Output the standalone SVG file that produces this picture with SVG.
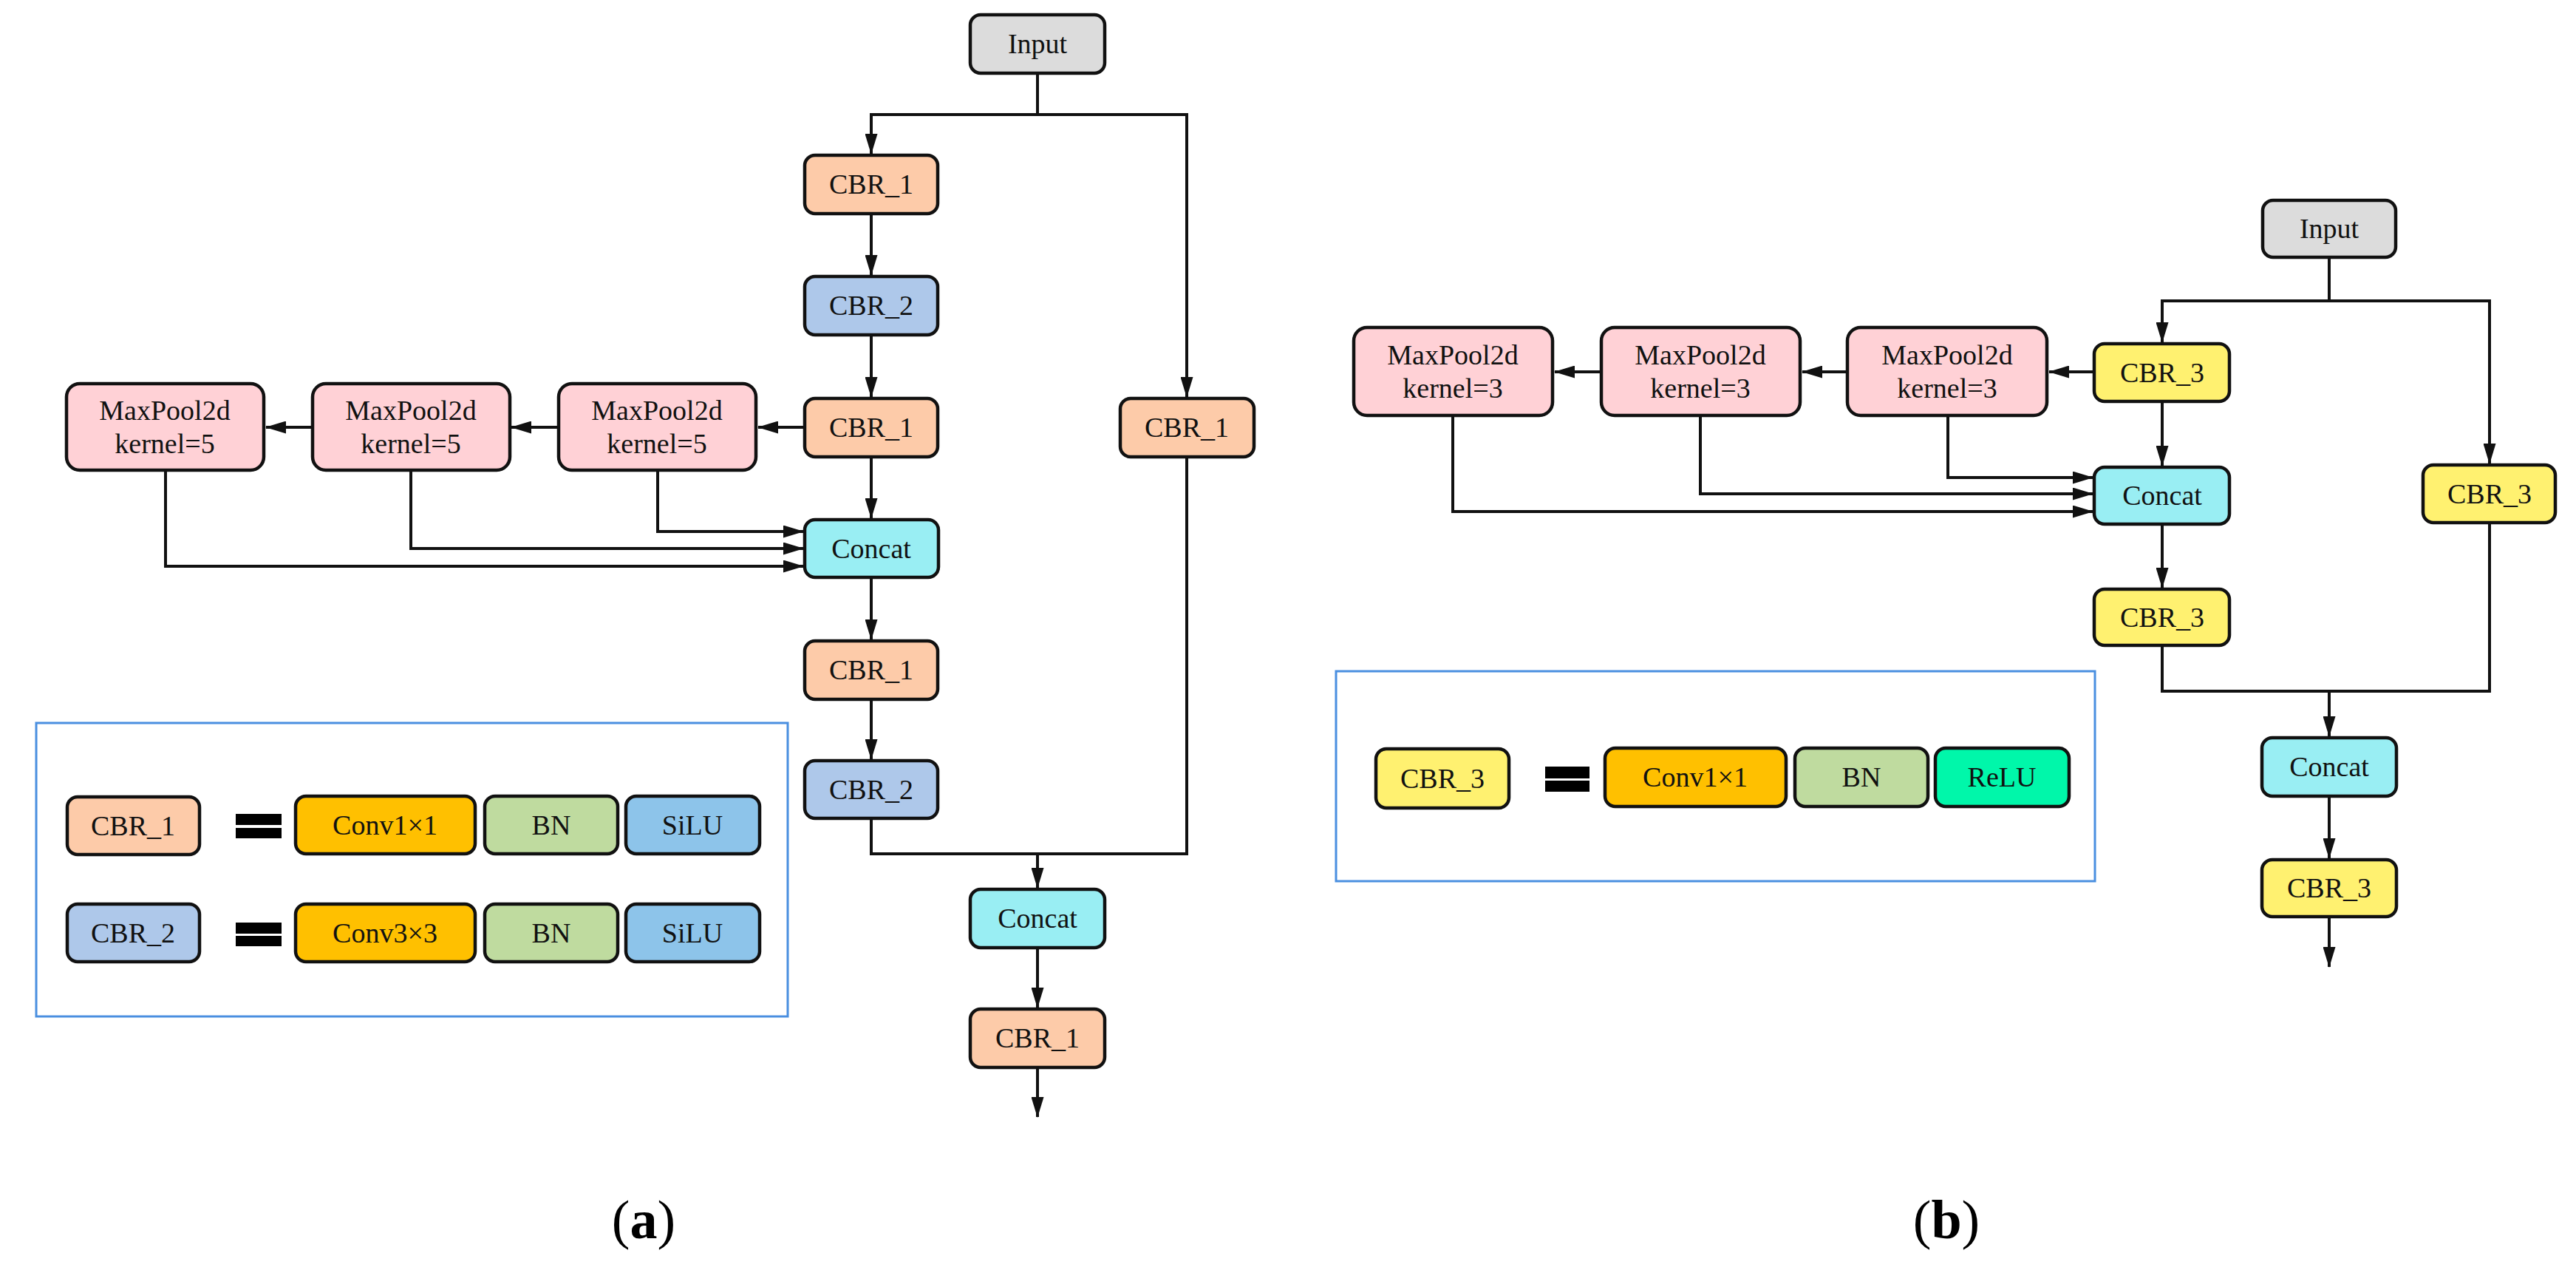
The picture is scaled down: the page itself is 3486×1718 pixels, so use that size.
<svg xmlns="http://www.w3.org/2000/svg" width="3486" height="1718" viewBox="0 0 3486 1718">
<style>
.n{stroke:#111;stroke-width:4.5}
.t{font-family:"Liberation Serif","Times New Roman",serif;font-size:38px;fill:#111;text-anchor:middle}
.c{fill:none;stroke:#111;stroke-width:4}
.lg{fill:none;stroke:#4a8fe0;stroke-width:3}
.eq{fill:#000}
.inp{fill:#dcdcdc}.c1{fill:#fdcba9}.c2{fill:#aec8ea}.cc{fill:#99eef3}.mp{fill:#ffd1d6}.c3{fill:#fff170}
.cv{fill:#ffc000}.bn{fill:#bfdb9f}.si{fill:#8dc4ea}.re{fill:#00f7aa}
.cap{font-family:"Liberation Serif","Times New Roman",serif;font-size:74px;fill:#000;text-anchor:middle}
</style>
<defs>
<marker id="ah" markerUnits="userSpaceOnUse" markerWidth="28" markerHeight="17" refX="27" refY="8.5" orient="auto">
<path d="M0,0 L28,8.5 L0,17 z" fill="#111"/>
</marker>
</defs>
<rect width="3486" height="1718" fill="#fff"/>

<g id="connectors">
<!-- (a) -->
<path class="c" d="M1404,99 V155 H1179"/>
<path class="c" d="M1404,155 H1606 V537" marker-end="url(#ah)"/>
<path class="c" d="M1179,153 V208" marker-end="url(#ah)"/>
<path class="c" d="M1179,289 V372" marker-end="url(#ah)"/>
<path class="c" d="M1179,453 V537" marker-end="url(#ah)"/>
<path class="c" d="M1179,618 V701" marker-end="url(#ah)"/>
<path class="c" d="M1089,578 H1026" marker-end="url(#ah)"/>
<path class="c" d="M756,578 H692" marker-end="url(#ah)"/>
<path class="c" d="M423,578 H360" marker-end="url(#ah)"/>
<path class="c" d="M890,636 V719 H1087" marker-end="url(#ah)"/>
<path class="c" d="M556,636 V742 H1087" marker-end="url(#ah)"/>
<path class="c" d="M224,636 V766 H1087" marker-end="url(#ah)"/>
<path class="c" d="M1179,781 V865" marker-end="url(#ah)"/>
<path class="c" d="M1179,946 V1027" marker-end="url(#ah)"/>
<path class="c" d="M1179,1107 V1155 H1606 V618"/>
<path class="c" d="M1404,1155 V1201" marker-end="url(#ah)"/>
<path class="c" d="M1404,1282 V1363" marker-end="url(#ah)"/>
<path class="c" d="M1404,1444 V1511" marker-end="url(#ah)"/>
<!-- (b) -->
<path class="c" d="M3152,348 V407 H2926 V463" marker-end="url(#ah)"/>
<path class="c" d="M3152,407 H3369 V627" marker-end="url(#ah)"/>
<path class="c" d="M2834,503 H2773" marker-end="url(#ah)"/>
<path class="c" d="M2500,503 H2439" marker-end="url(#ah)"/>
<path class="c" d="M2167,503 H2104" marker-end="url(#ah)"/>
<path class="c" d="M2636,562 V646 H2832" marker-end="url(#ah)"/>
<path class="c" d="M2301,562 V668 H2832" marker-end="url(#ah)"/>
<path class="c" d="M1966,562 V692 H2832" marker-end="url(#ah)"/>
<path class="c" d="M2926,543 V630" marker-end="url(#ah)"/>
<path class="c" d="M2926,709 V795" marker-end="url(#ah)"/>
<path class="c" d="M2926,873 V935 H3369 V707"/>
<path class="c" d="M3152,935 V996" marker-end="url(#ah)"/>
<path class="c" d="M3152,1077 V1161" marker-end="url(#ah)"/>
<path class="c" d="M3152,1240 V1308" marker-end="url(#ah)"/>
</g>

<!-- (a) nodes -->
<g id="a_input"><rect class="n inp" x="1313" y="20" width="182" height="79" rx="14"/><text class="t" x="1404" y="72">Input</text></g>
<g id="a_cbr1_1"><rect class="n c1" x="1089" y="210" width="180" height="79" rx="14"/><text class="t" x="1179" y="262">CBR_1</text></g>
<g id="a_cbr2_1"><rect class="n c2" x="1089" y="374" width="180" height="79" rx="14"/><text class="t" x="1179" y="426">CBR_2</text></g>
<g id="a_cbr1_2"><rect class="n c1" x="1089" y="539" width="180" height="79" rx="14"/><text class="t" x="1179" y="591">CBR_1</text></g>
<g id="a_cbr1_right"><rect class="n c1" x="1516" y="539" width="181" height="79" rx="14"/><text class="t" x="1606" y="591">CBR_1</text></g>
<g id="a_mp1"><rect class="n mp" x="90" y="519" width="267" height="117" rx="18"/><text class="t" x="223" y="568">MaxPool2d</text><text class="t" x="223" y="613">kernel=5</text></g>
<g id="a_mp2"><rect class="n mp" x="423" y="519" width="267" height="117" rx="18"/><text class="t" x="556" y="568">MaxPool2d</text><text class="t" x="556" y="613">kernel=5</text></g>
<g id="a_mp3"><rect class="n mp" x="756" y="519" width="267" height="117" rx="18"/><text class="t" x="889" y="568">MaxPool2d</text><text class="t" x="889" y="613">kernel=5</text></g>
<g id="a_concat1"><rect class="n cc" x="1089" y="703" width="181" height="78" rx="14"/><text class="t" x="1179" y="755">Concat</text></g>
<g id="a_cbr1_3"><rect class="n c1" x="1089" y="867" width="180" height="79" rx="14"/><text class="t" x="1179" y="919">CBR_1</text></g>
<g id="a_cbr2_2"><rect class="n c2" x="1089" y="1029" width="180" height="78" rx="14"/><text class="t" x="1179" y="1081">CBR_2</text></g>
<g id="a_concat2"><rect class="n cc" x="1313" y="1203" width="182" height="79" rx="14"/><text class="t" x="1404" y="1255">Concat</text></g>
<g id="a_cbr1_4"><rect class="n c1" x="1313" y="1365" width="182" height="79" rx="14"/><text class="t" x="1404" y="1417">CBR_1</text></g>

<g id="a_legend">
<rect class="lg" x="49" y="978" width="1017" height="397"/>
<rect class="n c1" x="91" y="1078" width="179" height="78" rx="14"/><text class="t" x="180" y="1130">CBR_1</text>
<rect class="eq" x="319" y="1101" width="62" height="15"/><rect class="eq" x="319" y="1120" width="62" height="14"/>
<rect class="n cv" x="400" y="1077" width="243" height="78" rx="14"/><text class="t" x="521" y="1129">Conv1×1</text>
<rect class="n bn" x="656" y="1077" width="180" height="78" rx="14"/><text class="t" x="746" y="1129">BN</text>
<rect class="n si" x="847" y="1077" width="181" height="78" rx="14"/><text class="t" x="937" y="1129">SiLU</text>
<rect class="n c2" x="91" y="1223" width="179" height="78" rx="14"/><text class="t" x="180" y="1275">CBR_2</text>
<rect class="eq" x="319" y="1248" width="62" height="15"/><rect class="eq" x="319" y="1266" width="62" height="14"/>
<rect class="n cv" x="400" y="1223" width="243" height="78" rx="14"/><text class="t" x="521" y="1275">Conv3×3</text>
<rect class="n bn" x="656" y="1223" width="180" height="78" rx="14"/><text class="t" x="746" y="1275">BN</text>
<rect class="n si" x="847" y="1223" width="181" height="78" rx="14"/><text class="t" x="937" y="1275">SiLU</text>
</g>

<!-- (b) nodes -->
<g id="b_input"><rect class="n inp" x="3062" y="271" width="180" height="77" rx="14"/><text class="t" x="3152" y="322">Input</text></g>
<g id="b_cbr3_1"><rect class="n c3" x="2834" y="465" width="183" height="78" rx="14"/><text class="t" x="2926" y="517">CBR_3</text></g>
<g id="b_mp1"><rect class="n mp" x="1832" y="443" width="269" height="119" rx="18"/><text class="t" x="1966" y="493">MaxPool2d</text><text class="t" x="1966" y="538">kernel=3</text></g>
<g id="b_mp2"><rect class="n mp" x="2167" y="443" width="269" height="119" rx="18"/><text class="t" x="2301" y="493">MaxPool2d</text><text class="t" x="2301" y="538">kernel=3</text></g>
<g id="b_mp3"><rect class="n mp" x="2500" y="443" width="270" height="119" rx="18"/><text class="t" x="2635" y="493">MaxPool2d</text><text class="t" x="2635" y="538">kernel=3</text></g>
<g id="b_concat1"><rect class="n cc" x="2834" y="632" width="183" height="77" rx="14"/><text class="t" x="2926" y="683">Concat</text></g>
<g id="b_cbr3_right"><rect class="n c3" x="3279" y="629" width="179" height="78" rx="14"/><text class="t" x="3369" y="681">CBR_3</text></g>
<g id="b_cbr3_2"><rect class="n c3" x="2834" y="797" width="183" height="76" rx="14"/><text class="t" x="2926" y="848">CBR_3</text></g>
<g id="b_concat2"><rect class="n cc" x="3061" y="998" width="182" height="79" rx="14"/><text class="t" x="3152" y="1050">Concat</text></g>
<g id="b_cbr3_3"><rect class="n c3" x="3061" y="1163" width="182" height="77" rx="14"/><text class="t" x="3152" y="1214">CBR_3</text></g>

<g id="b_legend">
<rect class="lg" x="1808" y="908" width="1027" height="284"/>
<rect class="n c3" x="1862" y="1013" width="180" height="80" rx="14"/><text class="t" x="1952" y="1066">CBR_3</text>
<rect class="eq" x="2091" y="1037" width="60" height="16"/><rect class="eq" x="2091" y="1056" width="60" height="15"/>
<rect class="n cv" x="2172" y="1012" width="245" height="79" rx="14"/><text class="t" x="2294" y="1064">Conv1×1</text>
<rect class="n bn" x="2429" y="1012" width="180" height="79" rx="14"/><text class="t" x="2519" y="1064">BN</text>
<rect class="n re" x="2619" y="1012" width="181" height="79" rx="14"/><text class="t" x="2709" y="1064">ReLU</text>
</g>

<text class="cap" x="871" y="1675">(<tspan font-weight="bold">a</tspan>)</text>
<text class="cap" x="2634" y="1675">(<tspan font-weight="bold">b</tspan>)</text>
</svg>
